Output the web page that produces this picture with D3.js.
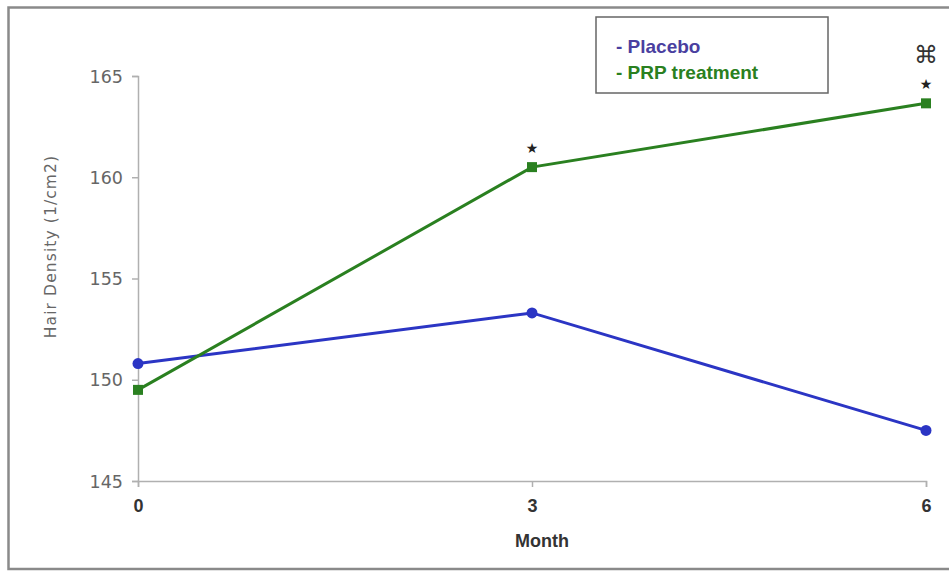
<!DOCTYPE html>
<html>
<head>
<meta charset="utf-8">
<script src="https://cdn.jsdelivr.net/npm/d3@7"></script>
<style>
  html, body { margin: 0; padding: 0; background: #fff; }
  svg { display: block; }
</style>
</head>
<body>
<svg id="chart" width="949" height="572"></svg>
<script>
// Hair density over time, placebo vs PRP treatment
const months = [0, 3, 6];
const placebo = [150.8, 153.3, 147.5];
const prp = [149.5, 160.5, 163.65];
const yTicks = [145, 150, 155, 160, 165];
const seriesNames = ["- Placebo", "- PRP treatment"];
const significance = [
  { month: 3, value: 160.5, marks: ["\u2605"] },
  { month: 6, value: 163.65, marks: ["\u2605", "\u2318"] }
];

const svg = d3.select("#chart");
const margin = { left: 138, right: 23, top: 76, bottom: 91 };
const W = 949, H = 572;

// frame around the figure
svg.append("rect")
  .attr("x", 8.5).attr("y", 7.5)
  .attr("width", 960).attr("height", 561.5)
  .attr("fill", "none").attr("stroke", "#8a8a8a").attr("stroke-width", 2.5);

const x = d3.scaleLinear().domain([0, 6]).range([margin.left, W - margin.right]);
const y = d3.scaleLinear().domain([145, 165]).range([H - margin.bottom, margin.top]);

const axisFont = "'Liberation Sans', Arial, sans-serif";

// y axis
const yAxis = svg.append("g")
  .attr("transform", `translate(${margin.left},0)`)
  .call(d3.axisLeft(y).tickValues(yTicks).tickSize(6).tickPadding(9).tickFormat(d3.format("d")));
yAxis.select(".domain").attr("stroke", "#b0b0b0").attr("stroke-width", 1.5);
yAxis.selectAll(".tick line").attr("stroke", "#b0b0b0").attr("stroke-width", 1.5);
yAxis.selectAll("text")
  .attr("font-family", "'DejaVu Sans', sans-serif")
  .attr("font-size", 17.5).attr("fill", "#666").attr("dy", "0.35em");

// x axis
const xAxis = svg.append("g")
  .attr("transform", `translate(0,${y(145)})`)
  .call(d3.axisBottom(x).tickValues(months).tickSize(6).tickPadding(12).tickFormat(d3.format("d")));
xAxis.select(".domain").attr("stroke", "#b0b0b0").attr("stroke-width", 1.5);
xAxis.selectAll(".tick line").attr("stroke", "#b0b0b0").attr("stroke-width", 1.5);
xAxis.selectAll("text")
  .attr("font-family", axisFont).attr("font-weight", "bold")
  .attr("font-size", 18).attr("fill", "#333");

// axis titles
svg.append("text")
  .attr("x", x(3) + 10).attr("y", 547)
  .attr("text-anchor", "middle")
  .attr("font-family", axisFont).attr("font-weight", "bold")
  .attr("font-size", 18).attr("fill", "#333")
  .text("Month");

svg.append("text")
  .attr("transform", `translate(56,${(y(145) + y(165)) / 2 - 32}) rotate(-90)`)
  .attr("text-anchor", "middle")
  .attr("font-family", "'DejaVu Sans', sans-serif")
  .attr("font-size", 15.5).attr("letter-spacing", 1.1).attr("fill", "#666")
  .text("Hair Density (1/cm2)");

// series lines
const line = d3.line().x((d, i) => x(months[i])).y(d => y(d));

const blue = "#2b35c4";
const green = "#2a8020";

svg.append("path").datum(placebo)
  .attr("d", line).attr("fill", "none")
  .attr("stroke", blue).attr("stroke-width", 3);
svg.selectAll(".pt-placebo").data(placebo).enter().append("circle")
  .attr("cx", (d, i) => x(months[i])).attr("cy", d => y(d))
  .attr("r", 5.5).attr("fill", blue);

svg.append("path").datum(prp)
  .attr("d", line).attr("fill", "none")
  .attr("stroke", green).attr("stroke-width", 3);
svg.selectAll(".pt-prp").data(prp).enter().append("rect")
  .attr("x", (d, i) => x(months[i]) - 5).attr("y", d => y(d) - 5)
  .attr("width", 10).attr("height", 10).attr("fill", green);

// significance markers
significance.forEach(s => {
  s.marks.forEach((m, k) => {
    const isStar = m === "\u2605";
    svg.append("text")
      .attr("x", x(s.month)).attr("y", y(s.value) - 14 - k * 26)
      .attr("text-anchor", "middle")
      .attr("font-family", "'DejaVu Sans', sans-serif")
      .attr("font-size", isStar ? 14 : 24)
      .attr("fill", isStar ? "#222" : "#333")
      .text(m);
  });
});

// legend
svg.append("rect")
  .attr("x", 596).attr("y", 17)
  .attr("width", 232).attr("height", 76)
  .attr("fill", "#fff").attr("stroke", "#666").attr("stroke-width", 1.5);
const legendColors = ["#4a3fa0", green];
seriesNames.forEach((n, i) => {
  svg.append("text")
    .attr("x", 616).attr("y", 53 + i * 26)
    .attr("font-family", axisFont).attr("font-weight", "bold")
    .attr("font-size", 19).attr("fill", legendColors[i])
    .text(n);
});
</script>
</body>
</html>
